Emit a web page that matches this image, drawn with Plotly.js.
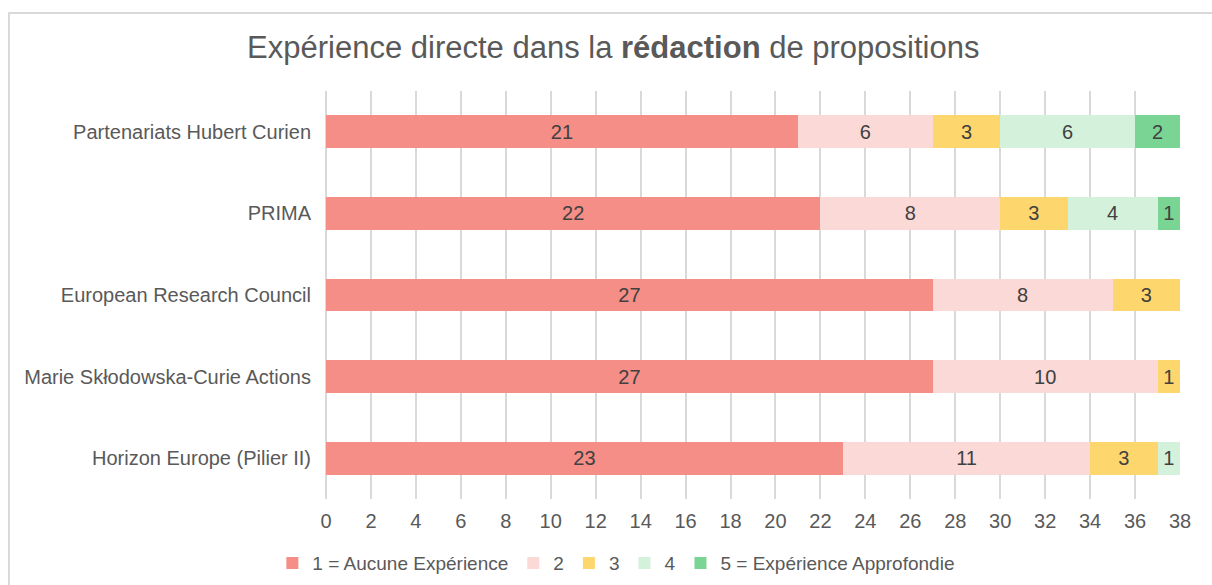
<!DOCTYPE html>
<html>
<head>
<meta charset="utf-8">
<script src="https://cdn.plot.ly/plotly-3.0.1.min.js"></script>
<style>
  html, body { margin: 0; padding: 0; background: #ffffff; overflow: hidden; }
  #frame { position: absolute; left: 8px; top: 12px; width: 1240px; height: 640px; border: 2px solid #d9d9d9; box-sizing: border-box; }
  #chart { position: absolute; left: 0; top: 0; width: 1212px; height: 585px; }
</style>
</head>
<body>
<div id="frame"></div>
<div id="chart"></div>
<script>
// Categories (bottom to top)
const categories = [
  "Horizon Europe (Pilier II)",
  "Marie Skłodowska-Curie Actions",
  "European Research Council",
  "PRIMA",
  "Partenariats Hubert Curien"
];
const seriesNames = ["1 = Aucune Expérience", "2", "3", "4", "5 = Expérience Approfondie"];
const level1 = [23, 27, 27, 22, 21];
const level2 = [11, 10, 8, 8, 6];
const level3 = [3, 1, 3, 3, 3];
const level4 = [1, 0, 0, 4, 6];
const level5 = [0, 0, 0, 1, 2];
const xTicks = [0,2,4,6,8,10,12,14,16,18,20,22,24,26,28,30,32,34,36,38];

const seriesValues = [level1, level2, level3, level4, level5];
const colors = ["#F48E87", "#FAD9D6", "#FDD66E", "#D4F1DC", "#7AD594"];

const traces = seriesValues.map((vals, i) => ({
  type: "bar",
  orientation: "h",
  name: seriesNames[i],
  y: categories,
  x: vals,
  text: vals.map(v => v === 0 ? "" : String(v)),
  textposition: "inside",
  insidetextanchor: "middle",
  textangle: 0,
  textfont: { family: "Liberation Sans, Arial, sans-serif", size: 20, color: "#404040" },
  marker: { color: colors[i], line: { width: 0 } },
  hoverinfo: "x+name"
}));

const layout = {
  width: 1212,
  height: 585,
  paper_bgcolor: "rgba(0,0,0,0)",
  plot_bgcolor: "rgba(0,0,0,0)",
  margin: { l: 326, r: 32, t: 91, b: 86, pad: 0, autoexpand: false },
  barmode: "stack",
  bargap: 0.6,
  font: { family: "Liberation Sans, Arial, sans-serif", size: 20, color: "#595959" },
  title: {
    text: "Expérience directe dans la <b>rédaction</b> de propositions",
    x: 0.506,
    xanchor: "center",
    y: 0.92,
    yanchor: "middle",
    yref: "container",
    font: { family: "Liberation Sans, Arial, sans-serif", size: 31, color: "#595959" }
  },
  xaxis: {
    range: [0, 38],
    tickvals: xTicks,
    ticktext: xTicks.map(String),
    showgrid: true,
    gridcolor: "#d9d9d9",
    gridwidth: 2,
    zeroline: true,
    zerolinecolor: "#d9d9d9",
    zerolinewidth: 2,
    showline: false,
    ticks: "",
    ticklabelstandoff: 8,
    tickfont: { size: 20, color: "#595959" },
    fixedrange: true
  },
  yaxis: {
    type: "category",
    categoryorder: "array",
    categoryarray: categories,
    showgrid: false,
    zeroline: false,
    showline: false,
    ticks: "",
    ticklabelstandoff: 14,
    tickfont: { size: 20, color: "#595959" },
    fixedrange: true
  },
  showlegend: true,
  legend: {
    orientation: "h",
    traceorder: "normal",
    x: 0.34,
    xanchor: "center",
    y: -0.157,
    yanchor: "middle",
    font: { size: 19, color: "#595959" },
    itemwidth: 30,
    bgcolor: "rgba(0,0,0,0)"
  }
};

Plotly.newPlot("chart", traces, layout, { displayModeBar: false, staticPlot: true });
</script>
</body>
</html>
